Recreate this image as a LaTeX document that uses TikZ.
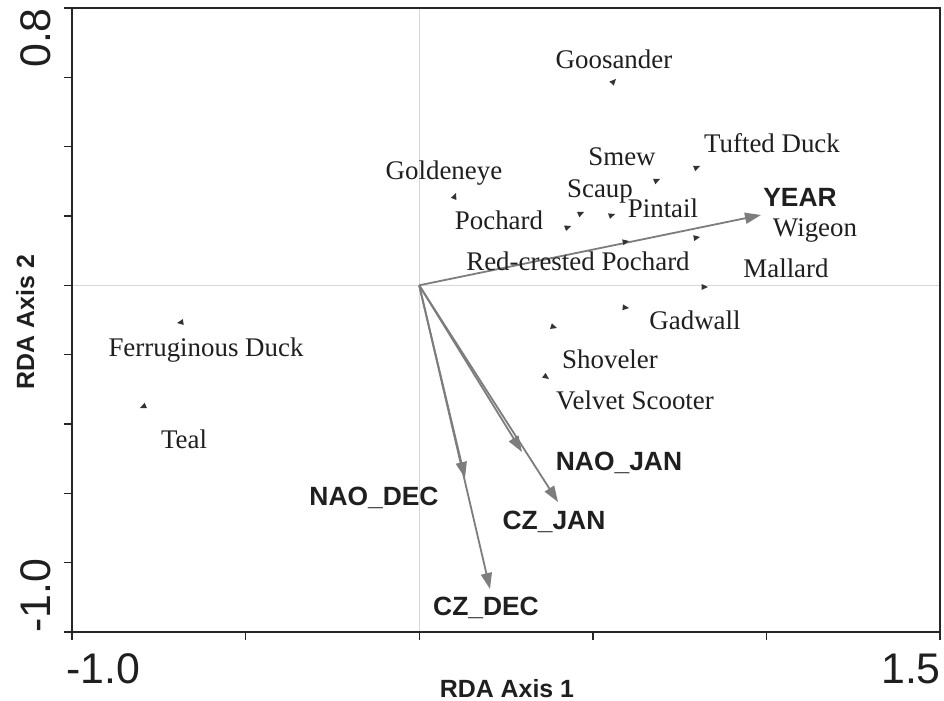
\documentclass[tikz,border=0pt]{standalone}
\usepackage{fontspec}
\setmainfont{Liberation Serif}
\setsansfont{Liberation Sans}
\usetikzlibrary{arrows.meta,calc}
\definecolor{arr}{RGB}{125,125,125}
\definecolor{grid}{RGB}{215,215,215}
\tikzset{
  sp/.style={font=\fontsize{27}{27}\selectfont, inner sep=0pt, anchor=base, text=black!88},
  env/.style={font=\sffamily\bfseries\fontsize{26.5}{26}\selectfont, inner sep=0pt, anchor=base, text=black!88},
  envarrow/.style={draw=arr, line width=1.8bp, -{Triangle[length=16bp,width=11bp]}},
  mk/.style={fill=black!80, draw=none},
  ticklab/.style={font=\sffamily\fontsize{43}{43}\selectfont, inner sep=0pt, text=black!88},
  axlab/.style={font=\sffamily\bfseries\fontsize{25}{25}\selectfont, inner sep=0pt, text=black!88},
}
\newcommand{\spmark}[3]{% name, x, y  -- small arrowhead pointing away from origin
  \coordinate (#1) at (#2,#3);
  \path let \p1=($(#1)-(O)$), \n1={atan2(\y1,\x1)} in
    [mk] (#1) -- ++(\n1+155:7bp) -- ++(\n1-90:5.9bp) -- cycle;
}
\begin{document}
\begin{tikzpicture}[x=1bp,y=-1bp]
\useasboundingbox (0,0) rectangle (944,701);
\fill[white] (0,0) rectangle (944,701);
\coordinate (O) at (419.2,285.3);
% origin lines
\draw[grid, line width=0.8bp] (419.2,8) -- (419.2,632);
\draw[grid, line width=0.8bp] (72,285.3) -- (940,285.3);
% frame
\draw[line width=1.6bp, black!85] (72,8) rectangle (940,632);
% x ticks
\foreach \x in {72,245.6,419.2,592.8,766.4,940} \draw[line width=1.4bp, black!85] (\x,632) -- (\x,640);
% y ticks
\foreach \k in {0,...,9} \draw[line width=1.4bp, black!85] (64,8+\k*69.33) -- (72,8+\k*69.33);
% tick labels
\node[ticklab, anchor=base west] (xl1) at (66,683) {-1.0};
\node[ticklab, anchor=base east] (xl2) at (941,683) {1.5};
\node[ticklab, anchor=base east, rotate=90] (yl1) at (50,8) {0.8};
\node[ticklab, anchor=base west, rotate=90] (yl2) at (50,633) {-1.0};
% axis labels
\node[axlab, anchor=base] (ax1) at (507,697) {RDA Axis 1};
\node[axlab, anchor=base, rotate=90] (ax2) at (34,322) {RDA Axis 2};
% environmental arrows
\coordinate (tYEAR) at (761,215);
\coordinate (tNJ) at (522,452);
\coordinate (tCJ) at (558,502);
\coordinate (tND) at (465,478);
\coordinate (tCD) at (490,589);
\draw[envarrow] (O) -- (tYEAR);
\draw[envarrow] (O) -- (tNJ);
\draw[envarrow] (O) -- (tCJ);
\draw[envarrow] (O) -- (tND);
\draw[envarrow] (O) -- (tCD);
\node[env] (lYEAR) at (800,206) {YEAR};
\node[env] (lNJ) at (619,470) {NAO\_JAN};
\node[env] (lND) at (374,505) {NAO\_DEC};
\node[env] (lCJ) at (554,529) {CZ\_JAN};
\node[env] (lCD) at (486,615) {CZ\_DEC};
% species markers
\spmark{mGoos}{616}{79}
\spmark{mTuft}{700}{166}
\spmark{mSmew}{660}{179}
\spmark{mGold}{456}{193}
\spmark{mScau}{584}{212}
\spmark{mPint}{615}{214}
\spmark{mPoch}{571}{226}
\spmark{mRedc}{629}{241}
\spmark{mWige}{700}{237}
\spmark{mMall}{708}{287}
\spmark{mGadw}{629}{308}
\spmark{mShov}{557}{328}
\spmark{mVelv}{549}{379}
\spmark{mFerr}{177}{323}
\spmark{mTeal}{140}{408}
% species labels
\node[sp] (Goos) at (614,69) {Goosander};
\node[sp] (Tuft) at (772,153) {Tufted Duck};
\node[sp] (Smew) at (622,166) {Smew};
\node[sp] (Gold) at (444,180) {Goldeneye};
\node[sp] (Scau) at (600,197) {Scaup};
\node[sp] (Pint) at (663,217) {Pintail};
\node[sp] (Poch) at (499,229) {Pochard};
\node[sp] (Redc) at (578,270) {Red-crested Pochard};
\node[sp] (Wige) at (815,236) {Wigeon};
\node[sp] (Mall) at (786,277) {Mallard};
\node[sp] (Gadw) at (695,329) {Gadwall};
\node[sp] (Shov) at (610,368) {Shoveler};
\node[sp] (Velv) at (635,409) {Velvet Scooter};
\node[sp] (Ferr) at (206,356) {Ferruginous Duck};
\node[sp] (Teal) at (184,448) {Teal};
\end{tikzpicture}
\end{document}
